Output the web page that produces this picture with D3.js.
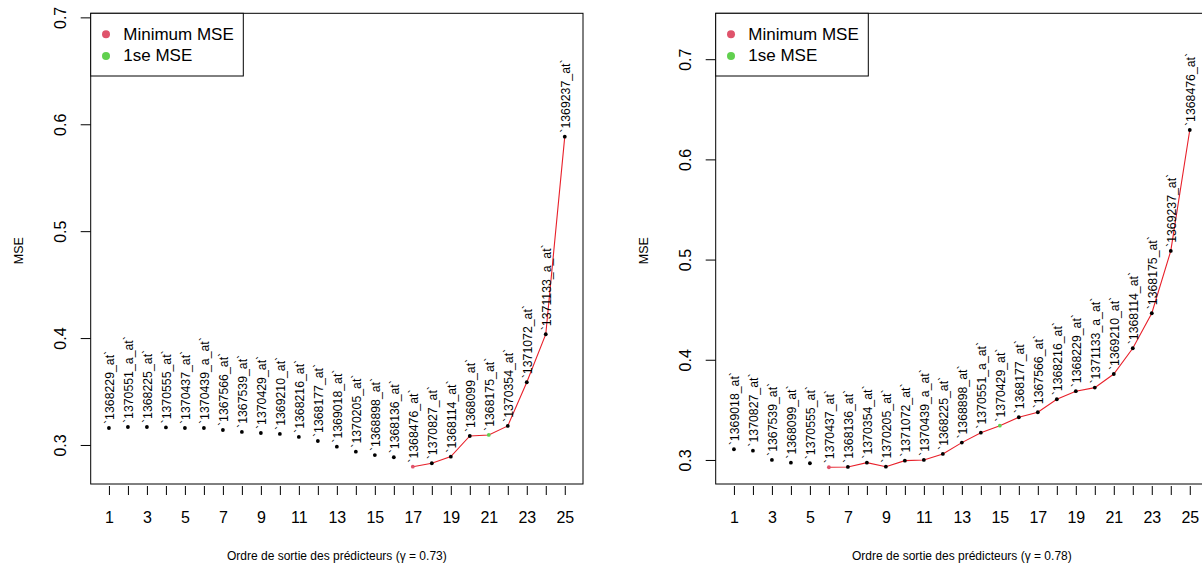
<!DOCTYPE html>
<html>
<head>
<meta charset="utf-8">
<script src="https://cdn.jsdelivr.net/npm/d3@7"></script>
<style>
  body { margin: 0; background: #fff; }
  text { font-family: "Liberation Sans", Arial, sans-serif; fill: #000; }
</style>
</head>
<body>
<svg id="main_svg" width="1202" height="569"></svg>
<script>
// panneau gauche (gamma = 0.73)
var leftGenes = ["1368229_at", "1370551_a_at", "1368225_at", "1370555_at", "1370437_at",
    "1370439_a_at", "1367566_at", "1367539_at", "1370429_at", "1369210_at",
    "1368216_at", "1368177_at", "1369018_at", "1370205_at", "1368898_at",
    "1368136_at", "1368476_at", "1370827_at", "1368114_at", "1368099_at",
    "1368175_at", "1370354_at", "1371072_at", "1371133_a_at", "1369237_at"];
var leftMSE = [0.3159, 0.3168, 0.3168, 0.3164, 0.3159, 0.3159, 0.3140, 0.3122, 0.3112, 0.3103,
    0.3075, 0.3037, 0.2984, 0.2937, 0.2906, 0.2885, 0.2797, 0.2829, 0.2891, 0.3084,
    0.3094, 0.3178, 0.3587, 0.4036, 0.5884];

// panneau droit (gamma = 0.78)
var rightGenes = ["1369018_at", "1370827_at", "1367539_at", "1368099_at", "1370555_at",
    "1370437_at", "1368136_at", "1370354_at", "1370205_at", "1371072_at",
    "1370439_a_at", "1368225_at", "1368898_at", "1370551_a_at", "1370429_at",
    "1368177_at", "1367566_at", "1368216_at", "1368229_at", "1371133_a_at",
    "1369210_at", "1368114_at", "1368175_at", "1369237_at", "1368476_at"];
var rightMSE = [0.3107, 0.3093, 0.3000, 0.2973, 0.2967, 0.2927, 0.2930, 0.2973, 0.2933, 0.2993,
    0.3000, 0.3060, 0.3173, 0.3272, 0.3342, 0.3426, 0.3476, 0.3606, 0.3686, 0.3722,
    0.3858, 0.4115, 0.4464, 0.5086, 0.6293];

var gammas = ["0.73", "0.78"];
var minPos = [17, 6];      // position du minimum MSE
var sePos = [21, 15];      // position du 1se MSE

var xTicks = [1, 2, 3, 4, 5, 6, 7, 8, 9, 10, 11, 12, 13, 14, 15, 16, 17, 18, 19, 20, 21, 22, 23, 24, 25];
var xTickLabels = [1, 3, 5, 7, 9, 11, 13, 15, 17, 19, 21, 23, 25];
var yTicks = [0.3, 0.4, 0.5, 0.6, 0.7];
var legendLabels = ["Minimum MSE", "1se MSE"];
var legendColors = ["#DF536B", "#61D04F"];

var BOX_W = 492.3, BOX_TOP = 13.3, BOX_BOTTOM = 484;

function draw_panel(svg, left, yDomain, genes, mse, gamma, iMin, iSe) {
    var g = svg.append("g");
    var x = d3.scaleLinear().domain([0.04, 25.96]).range([left, left + BOX_W]);
    var y = d3.scaleLinear().domain(yDomain).range([BOX_BOTTOM, BOX_TOP]);

    var pts = mse.map(function(v, i) { return {pos: i + 1, mse: v, gene: genes[i]}; });

    // axe y
    var ay = g.append("g")
        .attr("transform", "translate(" + left + ",0)")
        .call(d3.axisLeft(y).tickValues(yTicks).tickSize(10).tickPadding(0).tickFormat(d3.format(".1f")));
    ay.select(".domain").remove();
    ay.selectAll("line").attr("stroke", "#000");
    ay.selectAll("text")
        .attr("font-size", "16px")
        .attr("x", 0).attr("dy", null)
        .attr("text-anchor", "middle")
        .attr("dominant-baseline", "central")
        .attr("transform", "translate(-30,0) rotate(-90)");

    // axe x
    var ax = g.append("g")
        .attr("transform", "translate(0," + (BOX_BOTTOM + 2) + ")")
        .call(d3.axisBottom(x).tickValues(xTicks).tickSize(9).tickPadding(0)
            .tickFormat(function(d) { return xTickLabels.indexOf(d) >= 0 ? d : ""; }));
    ax.select(".domain").remove();
    ax.selectAll("line").attr("stroke", "#000");
    ax.selectAll("text")
        .attr("font-size", "16px")
        .attr("y", 31).attr("dy", null)
        .attr("dominant-baseline", "central");

    // cadre
    g.append("rect")
        .attr("x", left).attr("y", BOX_TOP)
        .attr("width", BOX_W).attr("height", BOX_BOTTOM - BOX_TOP)
        .attr("fill", "none").attr("stroke", "#000").attr("stroke-width", 1);

    // titres
    g.append("text")
        .attr("transform", "translate(" + (left - 71.5) + "," + ((BOX_TOP + BOX_BOTTOM) / 2 + 2) + ") rotate(-90)")
        .attr("text-anchor", "middle").attr("dominant-baseline", "central")
        .attr("font-size", "12.5px")
        .text("MSE");
    g.append("text")
        .attr("x", left + BOX_W / 2).attr("y", 556)
        .attr("text-anchor", "middle").attr("dominant-baseline", "central")
        .attr("font-size", "12px")
        .text("Ordre de sortie des prédicteurs (γ = " + gamma + ")");

    // ligne rouge a partir du minimum
    var line = d3.line().x(function(d) { return x(d.pos); }).y(function(d) { return y(d.mse); });
    g.append("path")
        .datum(pts.filter(function(d) { return d.pos >= iMin; }))
        .attr("d", line)
        .attr("fill", "none").attr("stroke", "#E8202A").attr("stroke-width", 1.1);

    g.selectAll("circle.pt")
        .data(pts)
        .enter()
        .append("circle")
        .attr("class", "pt")
        .attr("cx", function(d) { return x(d.pos); })
        .attr("cy", function(d) { return y(d.mse); })
        .attr("r", 1.9)
        .attr("fill", function(d) {
            if (d.pos == iMin) return legendColors[0];
            if (d.pos == iSe) return legendColors[1];
            return "#000";
        });

    // etiquettes des genes
    g.selectAll("text.lab")
        .data(pts)
        .enter()
        .append("text")
        .attr("class", "lab")
        .attr("transform", function(d) {
            return "translate(" + (x(d.pos) + 1.5) + "," + (y(d.mse) - 4) + ") rotate(-90)";
        })
        .attr("dominant-baseline", "central")
        .attr("font-size", "12.3px")
        .text(function(d) { return "`" + d.gene + "`"; });

    // legende
    var lg = g.append("g").attr("transform", "translate(" + left + "," + BOX_TOP + ")");
    lg.append("rect")
        .attr("width", 152.6).attr("height", 62.7)
        .attr("fill", "#fff").attr("stroke", "#000").attr("stroke-width", 1);
    legendLabels.forEach(function(lab, i) {
        lg.append("circle").attr("cx", 15.3).attr("cy", 21 + i * 21.7).attr("r", 4).attr("fill", legendColors[i]);
        lg.append("text").attr("x", 32.6).attr("y", 21 + i * 21.7)
            .attr("dominant-baseline", "central").attr("font-size", "17px").text(lab);
    });
}

window.onload = (event) => {
    var svg = d3.select("#main_svg");
    draw_panel(svg, 90.7, [0.2635, 0.7038], leftGenes, leftMSE, gammas[0], minPos[0], sePos[0]);
    draw_panel(svg, 715.7, [0.2760, 0.7458], rightGenes, rightMSE, gammas[1], minPos[1], sePos[1]);
};
</script>
</body>
</html>
